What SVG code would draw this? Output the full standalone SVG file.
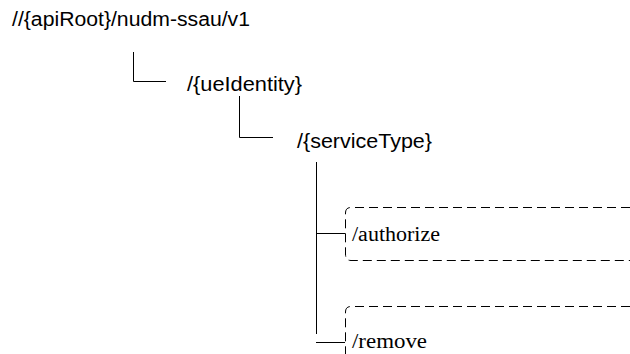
<svg xmlns="http://www.w3.org/2000/svg" width="630" height="354" viewBox="0 0 630 354">
<style>
.a{font-family:"Liberation Sans",Arial,sans-serif;font-size:20px;fill:#000}
.t{font-family:"Liberation Serif","Times New Roman",serif;font-size:20px;fill:#000}
.ln{fill:none;stroke:#000;stroke-width:1}
.d{fill:none;stroke:#000;stroke-width:1;stroke-dasharray:9 5}
</style>
<rect width="630" height="354" fill="#fff"/>
<g id="connectors">
<path class="ln" d="M133.5 52V81.5H166"/>
<path class="ln" d="M239.5 96V137.5H273"/>
<path class="ln" d="M316.5 162V334"/>
<path class="ln" d="M316 233.5H345"/>
<path class="ln" d="M316 342.5H345"/>
</g>
<g id="root"><text class="a" x="12" y="26" textLength="238" lengthAdjust="spacingAndGlyphs">//{apiRoot}/nudm-ssau/v1</text></g>
<g id="ueIdentity"><text class="a" x="187" y="91" textLength="115" lengthAdjust="spacingAndGlyphs">/{ueIdentity}</text></g>
<g id="serviceType"><text class="a" x="297" y="148" textLength="135" lengthAdjust="spacingAndGlyphs">/{serviceType}</text></g>
<g id="authorize">
<path class="d" d="M630 207.5H351Q345.5 207.5 345.5 213V254Q345.5 260.5 351 260.5H630"/>
<text class="t" x="352" y="241" textLength="88" lengthAdjust="spacingAndGlyphs">/authorize</text>
</g>
<g id="remove">
<path class="d" d="M630 306.5H351Q345.5 306.5 345.5 312V354"/>
<text class="t" x="352" y="348" textLength="75" lengthAdjust="spacingAndGlyphs">/remove</text>
</g>
</svg>
